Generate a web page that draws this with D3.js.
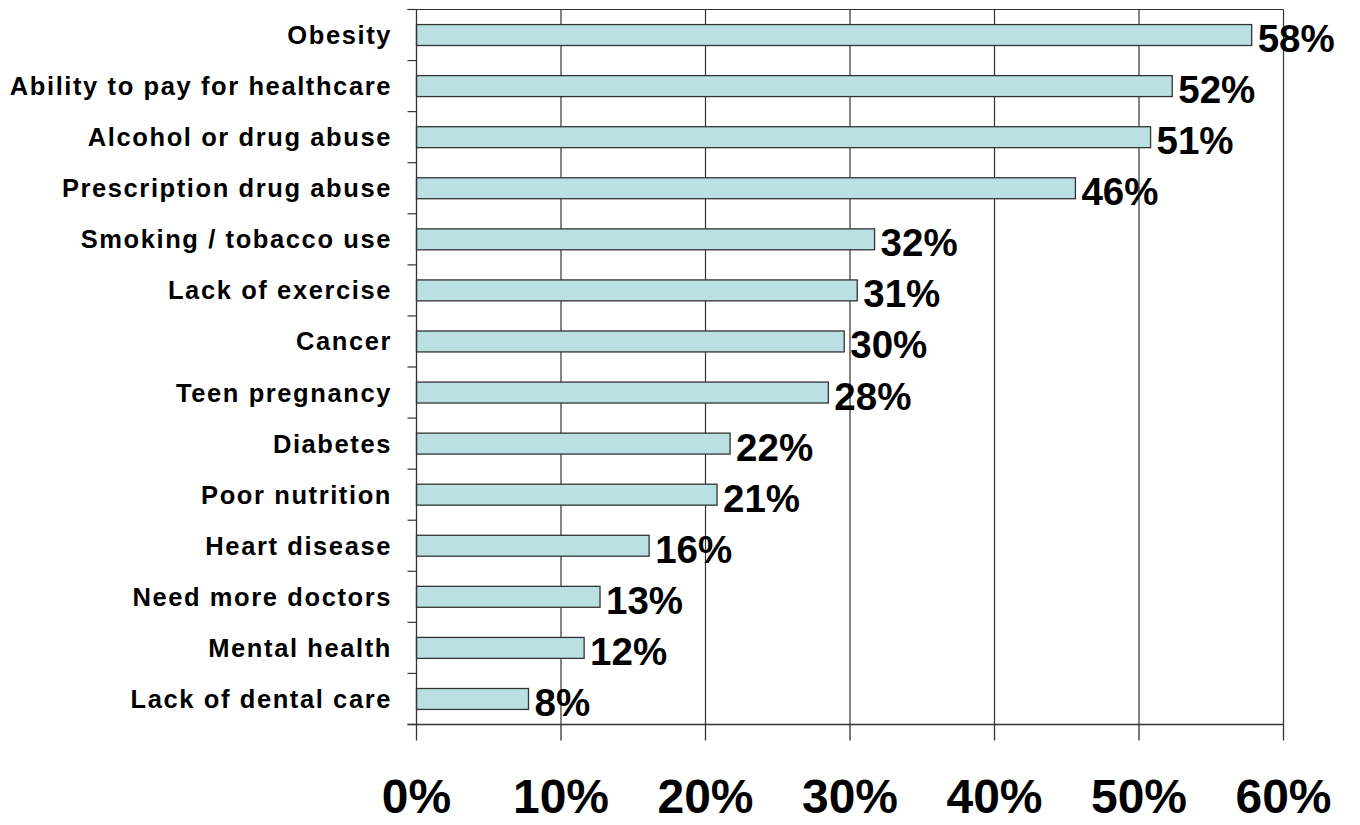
<!DOCTYPE html>
<html><head><meta charset="utf-8">
<script src="https://cdn.jsdelivr.net/npm/d3@7"></script>
<style>body{margin:0;background:#fff}svg{display:block}</style>
</head><body>
<svg id="c" width="1360" height="825"></svg>
<script>
const categories = ["Obesity","Ability to pay for healthcare","Alcohol or drug abuse","Prescription drug abuse","Smoking / tobacco use","Lack of exercise","Cancer","Teen pregnancy","Diabetes","Poor nutrition","Heart disease","Need more doctors","Mental health","Lack of dental care"];
const values = [57.8,52.3,50.8,45.6,31.7,30.5,29.6,28.5,21.7,20.8,16.1,12.7,11.6,7.75];
const labels = ["58%","52%","51%","46%","32%","31%","30%","28%","22%","21%","16%","13%","12%","8%"];
const xTicks = [0,10,20,30,40,50,60];
const xTickLabels = ["0%","10%","20%","30%","40%","50%","60%"];

const svg = d3.select("#c");
const L = 416.5, R = 1283.5, T = 9.5, B = 724.5;
const x = d3.scaleLinear().domain([0,60]).range([L,R]);
const y = d3.scaleBand().domain(categories).range([T,B]).paddingInner(0.59).paddingOuter(0.295);
const yb = d3.scaleLinear().domain([0,categories.length]).range([T,B]);
const stroke = "#333";
const font = "Liberation Sans, Arial, sans-serif";

// gridlines
svg.append("g").selectAll("line").data(xTicks.slice(1)).join("line")
  .attr("x1",d=>x(d)).attr("x2",d=>x(d)).attr("y1",T).attr("y2",B)
  .attr("stroke",stroke).attr("stroke-width",1.2);
// top border
svg.append("line").attr("x1",L-9).attr("x2",R).attr("y1",T).attr("y2",T).attr("stroke",stroke).attr("stroke-width",1.2);

// bars
svg.append("g").selectAll("rect").data(values).join("rect")
  .attr("x",x(0)).attr("y",(d,i)=>y(categories[i]))
  .attr("width",d=>x(d)-x(0)).attr("height",y.bandwidth())
  .attr("fill","#bbe0e3").attr("stroke",stroke).attr("stroke-width",1.3);

// left axis
svg.append("line").attr("x1",L).attr("x2",L).attr("y1",T).attr("y2",B).attr("stroke",stroke).attr("stroke-width",1.3);
svg.append("g").selectAll("line").data(d3.range(categories.length+1)).join("line")
  .attr("x1",L-9).attr("x2",L).attr("y1",d=>yb(d)).attr("y2",d=>yb(d)).attr("stroke",stroke).attr("stroke-width",1.2);
// bottom axis
svg.append("line").attr("x1",L-9).attr("x2",R).attr("y1",B).attr("y2",B).attr("stroke",stroke).attr("stroke-width",1.3);
svg.append("g").selectAll("line").data(xTicks).join("line")
  .attr("x1",d=>x(d)).attr("x2",d=>x(d)).attr("y1",B).attr("y2",B+16).attr("stroke",stroke).attr("stroke-width",1.3);

// category labels
svg.append("g").selectAll("text").data(categories).join("text")
  .attr("x",392).attr("y",d=>y(d)+y.bandwidth()/2+9)
  .attr("text-anchor","end").attr("font-family",font)
  .attr("font-weight","bold").attr("font-size",25.5).attr("letter-spacing","1.6px").attr("fill","#000")
  .text(d=>d);

// value labels
svg.append("g").selectAll("text").data(values).join("text")
  .attr("x",d=>x(d)+6).attr("y",(d,i)=>y(categories[i])+y.bandwidth()/2+17)
  .attr("font-family",font).attr("font-weight","bold")
  .attr("font-size",38.5).attr("fill","#000").text((d,i)=>labels[i]);

// x tick labels
svg.append("g").selectAll("text").data(xTicks).join("text")
  .attr("x",d=>x(d)).attr("y",813).attr("text-anchor","middle")
  .attr("font-family",font).attr("font-weight","bold")
  .attr("font-size",48).attr("fill","#000").text((d,i)=>xTickLabels[i]);
</script>
</body></html>
